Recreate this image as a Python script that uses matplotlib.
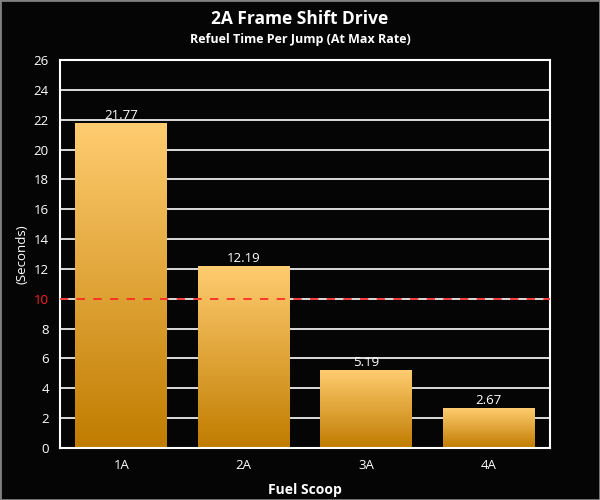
import matplotlib.pyplot as plt
import numpy as np
from matplotlib.colors import LinearSegmentedColormap
from matplotlib.patches import Rectangle

plt.rcParams['font.family'] = ['Open Sans', 'DejaVu Sans']

categories = ["1A", "2A", "3A", "4A"]
values = [21.77, 12.19, 5.19, 2.67]
threshold = 10
yticks = list(range(0, 27, 2))

fig = plt.figure(figsize=(6, 5), dpi=100, facecolor='#050505')
ax = fig.add_axes([0.1, 0.104, 0.8167, 0.776])
ax.set_facecolor('#050505')

# gradient fill per bar (light on top, darker at the base)
cmap = LinearSegmentedColormap.from_list('gold', ['#c07c00', '#ffcc70'])
grad = np.linspace(0, 1, 256).reshape(-1, 1)
width = 0.75
x = np.arange(len(categories))
for xi, v in zip(x, values):
    ax.imshow(grad, cmap=cmap, origin='lower', aspect='auto',
              extent=(xi - width / 2, xi + width / 2, 0, v), zorder=2)
    ax.text(xi, v + 0.1, f"{v:.2f}", ha='center', va='bottom',
            color='white', fontsize=9.5)

ax.set_xlim(-0.5, len(categories) - 0.5)
ax.set_ylim(0, 26)
ax.set_xticks(x)
ax.set_xticklabels(categories)
ax.set_yticks(yticks)
ax.yaxis.grid(True, color='white', linewidth=1.2, zorder=1)
ax.set_axisbelow(True)
ax.tick_params(colors='white', labelsize=9.5, length=0, pad=8)
for lbl in ax.get_yticklabels():
    if lbl.get_text() == str(threshold):
        lbl.set_color('#ff2020')
for s in ax.spines.values():
    s.set_color('white')
    s.set_linewidth(1.5)

ax.axhline(threshold, color='#ff2020', linestyle=(0, (5, 5)), linewidth=1.2, zorder=3)

ax.set_ylabel("(Seconds)", color='white', fontsize=9.5, labelpad=4)
ax.set_xlabel("Fuel Scoop", color='white', fontsize=10, fontweight='bold', labelpad=8)

fig.text(0.5, 0.962, "2A Frame Shift Drive", ha='center', va='center',
         color='white', fontsize=12.5, fontweight='bold')
fig.text(0.5, 0.922, "Refuel Time Per Jump (At Max Rate)", ha='center', va='center',
         color='white', fontsize=9, fontweight='bold')

fig.patches.append(Rectangle((0, 0), 1, 1, transform=fig.transFigure,
                             fill=False, edgecolor='#808080', linewidth=2))

fig.savefig("out.png", dpi=100, facecolor=fig.get_facecolor())
